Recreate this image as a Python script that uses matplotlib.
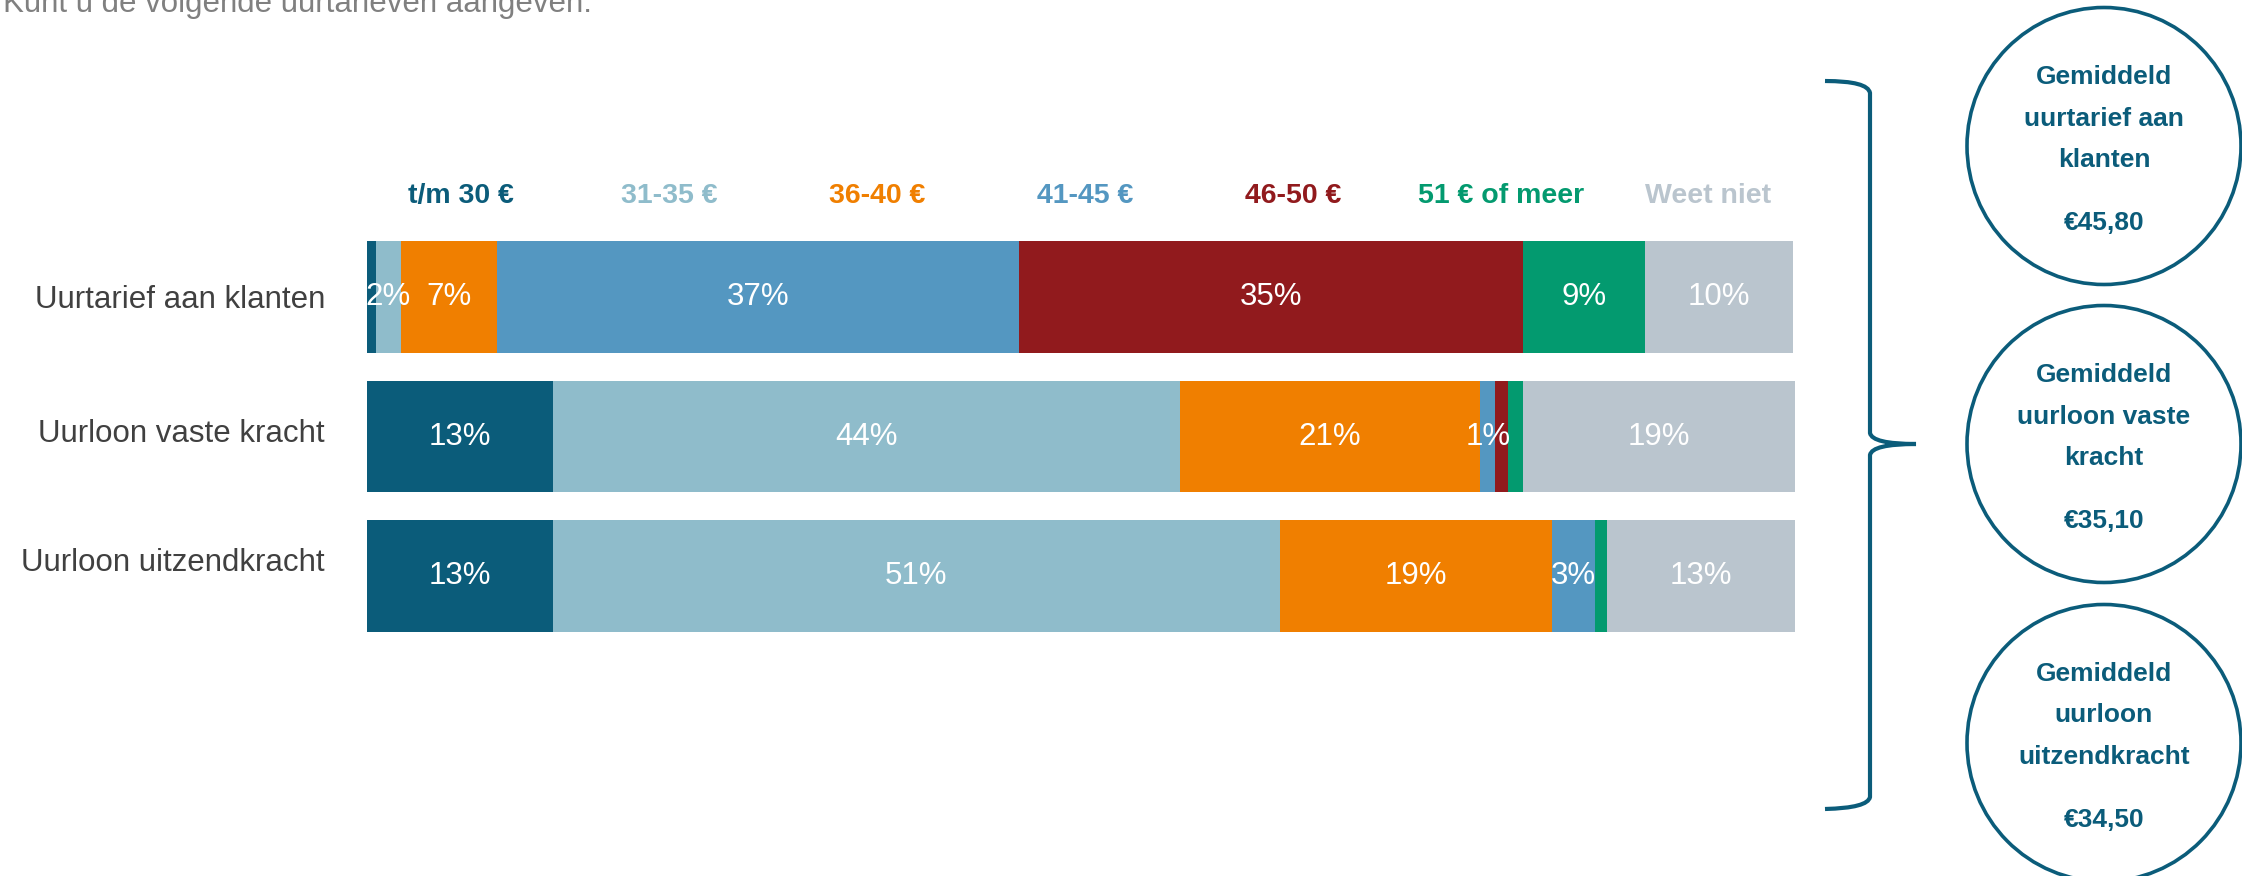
import matplotlib
matplotlib.use("Agg")
import matplotlib.pyplot as plt
from matplotlib.patches import Ellipse, PathPatch
from matplotlib.path import Path

# Gegevens uit de grafiek
categories = ["Uurtarief aan klanten", "Uurloon vaste kracht", "Uurloon uitzendkracht"]
groups = ["t/m 30 €", "31-35 €", "36-40 €", "41-45 €", "46-50 €", "51 € of meer", "Weet niet"]
colors = ["#0b5c7a", "#8fbccb", "#f07f00", "#5497c1", "#911a1d", "#039a6f", "#bac5ce"]

# percentages per rij (breedte van de segmenten)
values = [
    [0.6, 1.8, 6.7, 36.5, 35.3, 8.5, 10.4],
    [13.0, 43.9, 21.0, 1.05, 0.9, 1.05, 19.0],
    [13.0, 50.9, 19.0, 3.0, 0.0, 0.9, 13.1],
]
# labels zoals ze in de grafiek staan (kleine waarden zonder label)
labels = [
    ["", "2%", "7%", "37%", "35%", "9%", "10%"],
    ["13%", "44%", "21%", "1%", "", "", "19%"],
    ["13%", "51%", "19%", "3%", "", "", "13%"],
]

circle_titles = ["Gemiddeld\nuurtarief aan\nklanten",
                 "Gemiddeld\nuurloon vaste\nkracht",
                 "Gemiddeld\nuurloon\nuitzendkracht"]
circle_values = ["€45,80", "€35,10", "€34,50"]

title = "Kunt u de volgende uurtarieven aangeven:"

W, H = 2242, 876
plt.rcParams['font.family'] = ['Liberation Sans', 'DejaVu Sans']
fig = plt.figure(figsize=(W / 100, H / 100), dpi=100)

# assen voor de balken, in pixels uitgerekend
left, right = 367, 1796
top, bottom = 227.25, 645.75
ax = fig.add_axes([left / W, 1 - bottom / H, (right - left) / W, (bottom - top) / H])

for r, row in enumerate(values):
    start = 0
    for g, v in enumerate(row):
        ax.barh(r, v, left=start, height=0.8, color=colors[g], linewidth=0)
        if labels[r][g]:
            ax.text(start + v / 2, r, labels[r][g], ha="center", va="center",
                    color="white", fontsize=22.5)
        start += v

ax.set_xlim(0, 100)
ax.set_ylim(2.5, -0.5)
ax.axis("off")

# rijlabels
label_dy = [0.02, -0.02, -0.09]
for r, cat in enumerate(categories):
    ax.text(-42 / (right - left) * 100, r + label_dy[r], cat, ha="right", va="center",
            color="#404040", fontsize=22.5)

# legenda boven de balken
for g, name in enumerate(groups):
    ax.text(0.0658 + g * 0.1455, (bottom - 196) / (bottom - top), name,
            transform=ax.transAxes, ha="center", va="center",
            color=colors[g], fontsize=20.5, fontweight="bold")

# titel (bovenaan afgesneden)
fig.text(3 / W, 1 - 12 / H, title, ha="left", va="baseline",
         color="#808080", fontsize=22.5)

# overlay voor accolade en cirkels
ov = fig.add_axes([0, 0, 1, 1], zorder=-1)
ov.set_xlim(0, W)
ov.set_ylim(H, 0)
ov.axis("off")

navy = "#0b5c7a"
verts = [(1825, 81), (1868, 81), (1870, 93),
         (1870, 433),
         (1872, 444), (1916, 444),
         (1872, 444), (1870, 455),
         (1870, 797),
         (1868, 808), (1825, 809)]
codes = [Path.MOVETO, Path.CURVE3, Path.CURVE3,
         Path.LINETO,
         Path.CURVE3, Path.CURVE3,
         Path.CURVE3, Path.CURVE3,
         Path.LINETO,
         Path.CURVE3, Path.CURVE3]
ov.add_patch(PathPatch(Path(verts, codes), facecolor="none", edgecolor=navy,
                       linewidth=3, capstyle="butt"))

cx = 2104
cys = [146, 444, 743]
for i, cy in enumerate(cys):
    ov.add_patch(Ellipse((cx, cy), 274, 277, facecolor="white", edgecolor=navy, linewidth=2.6))
    for j, line in enumerate(circle_titles[i].split("\n")):
        ov.text(cx, cy - 69 + j * 41.5, line, ha="center", va="center",
                color=navy, fontsize=19, fontweight="bold")
    ov.text(cx, cy + 77, circle_values[i], ha="center", va="center",
            color=navy, fontsize=19, fontweight="bold")

fig.savefig("out.png", dpi=100)
